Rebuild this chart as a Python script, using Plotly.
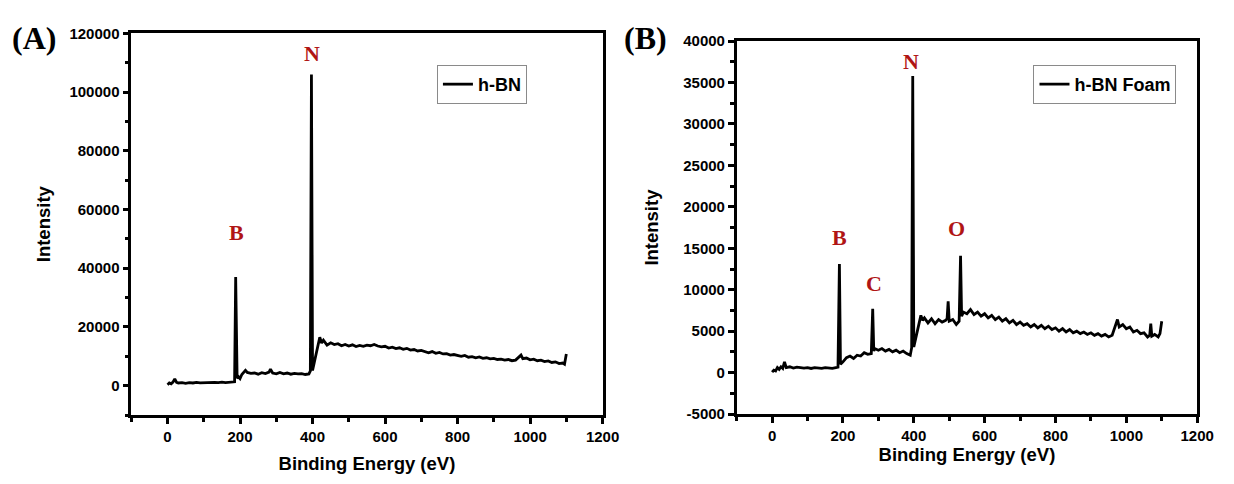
import plotly.graph_objects as go

# XPS survey spectra
energy_a = [0, 5, 10, 15, 20, 25, 30, 40, 50, 60,
            70, 80, 90, 100, 110, 120, 130, 140, 150, 160,
            170, 180, 185, 188, 190, 192, 196, 200, 205, 210,
            215, 220, 230, 240, 250, 260, 270, 280, 284, 290,
            300, 310, 320, 330, 340, 350, 360, 370, 380, 390,
            394, 397, 400, 405, 410, 415, 420, 425, 430, 440,
            450, 460, 470, 480, 490, 500, 510, 520, 530, 540,
            550, 560, 570, 580, 590, 600, 610, 620, 630, 640,
            650, 660, 670, 680, 690, 700, 710, 720, 730, 740,
            750, 760, 770, 780, 790, 800, 810, 820, 830, 840,
            850, 860, 870, 880, 890, 900, 910, 920, 930, 940,
            950, 960, 970, 975, 980, 990, 1000, 1010, 1020, 1030,
            1040, 1050, 1060, 1070, 1080, 1090, 1095, 1100]
intensity_a = [300, 900, 600, 1200, 2300, 1100, 900, 1000, 800, 1000,
               900, 1100, 950, 1000, 1200, 1000, 1100, 1050, 1200, 1000,
               1150, 1100, 1300, 37000, 20000, 2500, 3000, 2400, 3800, 4600,
               5200, 4500, 4200, 4300, 3900, 4400, 4100, 4600, 5600, 4300,
               4000, 4500, 4000, 4300, 3900, 4200, 4000, 4100, 3800, 4000,
               5000, 106000, 5200, 8000, 11000, 13500, 16500, 14500, 15500, 13800,
               14600, 14000, 14300, 13600, 14000, 13500, 13900, 13300, 13700, 13400,
               13800, 13600, 14000, 13500, 13200, 13400, 12800, 13100, 12600, 12900,
               12400, 12700, 12100, 12300, 11800, 12000, 11500, 11200, 11600, 11000,
               11300, 10800, 10900, 10400, 10600, 10200, 10000, 10300, 9700, 9900,
               9500, 9800, 9300, 9500, 9100, 9300, 8900, 9000, 8700, 8900,
               8500, 8700, 10000, 10400, 9200, 9400, 8800, 9000, 8500, 8700,
               8200, 8400, 7900, 8100, 7500, 7700, 7300, 10800]

energy_b = [0, 5, 10, 15, 20, 25, 30, 35, 40, 50,
            60, 70, 80, 90, 100, 110, 120, 130, 140, 150,
            160, 170, 180, 186, 190, 193, 200, 210, 220, 230,
            240, 250, 260, 270, 280, 284, 287, 290, 300, 310,
            320, 330, 340, 350, 360, 370, 380, 390, 394, 397,
            400, 405, 410, 415, 420, 425, 430, 440, 450, 460,
            470, 480, 490, 494, 497, 500, 510, 520, 528, 532,
            535, 540, 550, 560, 570, 580, 590, 600, 610, 620,
            630, 640, 650, 660, 670, 680, 690, 700, 710, 720,
            730, 740, 750, 760, 770, 780, 790, 800, 810, 820,
            830, 840, 850, 860, 870, 880, 890, 900, 910, 920,
            930, 940, 950, 960, 970, 975, 980, 990, 1000, 1010,
            1020, 1030, 1040, 1050, 1060, 1066, 1069, 1072, 1080, 1090,
            1095, 1100]
intensity_b = [50, 300, 200, 600, 400, 700, 500, 1300, 600, 700,
               550, 650, 600, 550, 600, 500, 600, 550, 500, 600,
               550, 500, 600, 650, 13100, 1000, 1300, 1800, 2000, 1700,
               2100, 2000, 2400, 2200, 2300, 7700, 2600, 2900, 2700, 2900,
               2600, 2800, 2500, 2700, 2400, 2600, 2300, 2100, 3000, 35800,
               3100, 4000, 5000, 5800, 6900, 6300, 6600, 6000, 6500, 5900,
               6400, 6100, 6300, 6500, 8600, 6200, 6400, 5800, 6200, 14100,
               6800, 7300, 7100, 7600, 7000, 7300, 6800, 7100, 6600, 6900,
               6400, 6700, 6200, 6500, 6000, 6300, 5800, 6100, 5700, 5900,
               5500, 5800, 5400, 5700, 5300, 5600, 5200, 5400, 5000, 5300,
               4900, 5200, 4800, 5000, 4700, 4900, 4600, 4800, 4500, 4700,
               4400, 4600, 4300, 4500, 5600, 6400, 5500, 5800, 5300, 5500,
               4900, 5100, 4700, 4800, 4300, 4500, 5900, 4400, 4600, 4300,
               4700, 6200]

# peak labels: (text, energy, intensity)
peaks_a = [("B", 190, 52000), ("N", 398, 113000)]
peaks_b = [("B", 190, 16300), ("C", 287, 10700), ("N", 393, 37500), ("O", 520, 17400)]

x_ticks = [0, 200, 400, 600, 800, 1000, 1200]
y_ticks_a = [0, 20000, 40000, 60000, 80000, 100000, 120000]
y_ticks_b = [-5000, 0, 5000, 10000, 15000, 20000, 25000, 30000, 35000, 40000]

SANS = "Liberation Sans, Arial"
SERIF = "Liberation Serif, Times New Roman"
RED = "#B01515"
OFF = 8  # page body margin
W, H = 1234 - 2 * OFF, 484 - 2 * OFF


def px(x):
    return (x - OFF) / W


def py(y):
    return 1 - (y - OFF) / H


fig = go.Figure()
fig.add_trace(go.Scatter(x=energy_a, y=intensity_a, mode="lines", name="h-BN",
                         line=dict(color="black", width=2.8), xaxis="x", yaxis="y",
                         legend="legend", showlegend=True))
fig.add_trace(go.Scatter(x=energy_b, y=intensity_b, mode="lines", name="h-BN Foam",
                         line=dict(color="black", width=2.8), xaxis="x2", yaxis="y2",
                         legend="legend2", showlegend=True))

tick_font = dict(family=SANS, size=15, color="black", weight="bold")
title_font = dict(family=SANS, size=18.5, color="black", weight="bold")


def x_axis(domain, standoff):
    return dict(domain=domain, range=[-100, 1200], tickmode="array",
                tickvals=x_ticks, ticktext=[str(v) for v in x_ticks],
                showline=True, linecolor="black", linewidth=2.5, mirror=True,
                ticks="outside", ticklen=6, tickwidth=2.5, tickcolor="black",
                minor=dict(tickmode="linear", tick0=0, dtick=100, ticks="outside",
                           ticklen=4, tickwidth=2.5, tickcolor="black"),
                showgrid=False, zeroline=False, tickfont=tick_font,
                title=dict(text="Binding Energy (eV)", font=title_font, standoff=standoff))


def y_axis(domain, rng, ticks, minor_step, anchor, standoff):
    return dict(domain=domain, range=rng, anchor=anchor, tickmode="array",
                tickvals=ticks, ticktext=[str(v) for v in ticks],
                showline=True, linecolor="black", linewidth=2.5, mirror=True,
                ticks="outside", ticklen=6, tickwidth=2.5, tickcolor="black",
                minor=dict(tickmode="linear", tick0=0, dtick=minor_step, ticks="outside",
                           ticklen=4, tickwidth=2.5, tickcolor="black"),
                showgrid=False, zeroline=False, tickfont=tick_font,
                title=dict(text="Intensity", font=title_font, standoff=standoff))


panel_font = dict(family=SERIF, size=32, color="black", weight="bold")
annotations = [
    dict(text="(A)", x=px(34), y=py(30), xref="paper", yref="paper", showarrow=False,
         xanchor="center", yanchor="middle", font=panel_font),
    dict(text="(B)", x=px(655), y=py(30), xref="paper", yref="paper", showarrow=False,
         xanchor="center", yanchor="middle", font=panel_font),
]
peak_font = dict(family=SERIF, size=22, color=RED, weight="bold")
for text, ex, iy in peaks_a:
    annotations.append(dict(text=text, x=ex, y=iy, xref="x", yref="y", showarrow=False,
                            xanchor="center", yanchor="middle", font=peak_font))
for text, ex, iy in peaks_b:
    annotations.append(dict(text=text, x=ex, y=iy, xref="x2", yref="y2", showarrow=False,
                            xanchor="center", yanchor="middle", font=peak_font))

legend_style = dict(xanchor="left", yanchor="middle", bgcolor="white",
                    bordercolor="#8a8a8a", borderwidth=1,
                    font=dict(family=SANS, size=18, color="black", weight="bold"))

fig.update_layout(
    width=W, height=H,
    margin=dict(l=0, r=0, t=0, b=0),
    paper_bgcolor="white", plot_bgcolor="white",
    showlegend=True,
    xaxis=x_axis([px(133), px(611)], 14),
    yaxis=y_axis([py(421), py(25)], [-10000, 120000], y_ticks_a, 10000, "x", 14),
    xaxis2=dict(x_axis([px(747), px(1214)], 3), anchor="y2"),
    yaxis2=y_axis([py(420), py(33)], [-5000, 40000], y_ticks_b, 2500, "x2", 20),
    legend=dict(legend_style, x=px(443), y=py(78)),
    legend2=dict(legend_style, x=px(1048), y=py(78)),
    annotations=annotations,
)

fig.write_html("out.html")
